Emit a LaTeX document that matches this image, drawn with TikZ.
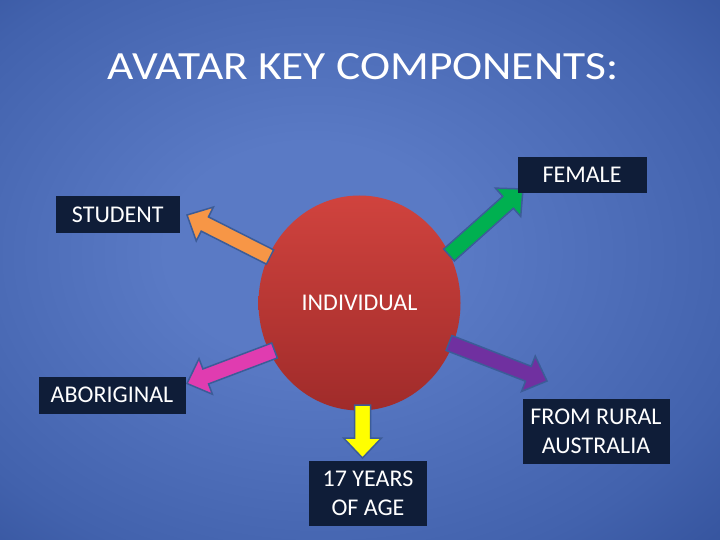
\documentclass[tikz,border=0pt]{standalone}
\usepackage{fontspec}
\setmainfont{Carlito}
\usetikzlibrary{calc,shapes.geometric}
\definecolor{boxnavy}{HTML}{0F1D38}
\definecolor{arroworange}{HTML}{F79646}
\definecolor{arrowgreen}{HTML}{00B050}
\definecolor{arrowpink}{HTML}{E03CB0}
\definecolor{arrowpurple}{HTML}{7030A0}
\definecolor{arrowyellow}{HTML}{FFFF00}
\definecolor{arrowedge}{HTML}{3C5C98}
\definecolor{bgc}{HTML}{5A7AC5}
\definecolor{bgm}{HTML}{4262AD}
\definecolor{bge}{HTML}{26438C}
\definecolor{bgk}{HTML}{0E2465}
\definecolor{redtop}{HTML}{D0433E}
\definecolor{redbot}{HTML}{A02B2A}
\pgfdeclareradialshading{slidebg}{\pgfpoint{-4bp}{2bp}}{color(0bp)=(bgc); color(10bp)=(bgc); color(30bp)=(bgm); color(48bp)=(bge); color(72bp)=(bgk)}
\newcommand{\blkarrow}[3]{%
  \filldraw[fill=#3, arrowline]
    ($(#1)!8pt!90:(#2)$) --
    ($($(#2)!20pt!(#1)$)!8pt!90:(#2)$) --
    ($($(#2)!20pt!(#1)$)!19pt!90:(#2)$) --
    (#2) --
    ($($(#2)!20pt!(#1)$)!19pt!-90:(#2)$) --
    ($($(#2)!20pt!(#1)$)!8pt!-90:(#2)$) --
    ($(#1)!8pt!-90:(#2)$) -- cycle;}
\tikzset{
  arrowline/.style={draw=arrowedge, line width=1.5pt, line join=miter},
  labelbox/.style={fill=boxnavy, text=white, align=center, inner sep=0pt,
    font=\fontsize{24}{29}\selectfont},
}
\begin{document}
\begin{tikzpicture}[x=1pt, y=-1pt]
\path[use as bounding box, shading=slidebg] (0,0) rectangle (720,540);
% title
\node[text=white, font=\fontsize{40}{48}\selectfont, inner sep=0pt] (title) at (363,66.5) {\scalebox{1.135}[1]{AVATAR KEY COMPONENTS:}};
% centre circle
\node[ellipse, minimum width=202pt, minimum height=215pt, inner sep=0pt,
  top color=redtop, bottom color=redbot, text=white,
  font=\fontsize{24}{29}\selectfont] (ind) at (359.5,303) {INDIVIDUAL};
% arrow end points
\coordinate (tStu) at (270,257);   \coordinate (hStu) at (187,215);
\coordinate (tFem) at (449,255);   \coordinate (hFem) at (523,189);
\coordinate (tAbo) at (274.5,350.5); \coordinate (hAbo) at (187,383.5);
\coordinate (tRur) at (449,343);   \coordinate (hRur) at (547,381);
\coordinate (tAge) at (362.5,405); \coordinate (hAge) at (362.5,458);
\blkarrow{tStu}{hStu}{arroworange}
\blkarrow{tFem}{hFem}{arrowgreen}
\blkarrow{tAbo}{hAbo}{arrowpink}
\blkarrow{tRur}{hRur}{arrowpurple}
\blkarrow{tAge}{hAge}{arrowyellow}
% boxes
\node[labelbox, minimum width=129pt, minimum height=36pt] (fem) at (582,175.3) {FEMALE};
\node[labelbox, minimum width=123.5pt, minimum height=37pt] (stu) at (117.8,214.8) {STUDENT};
\node[labelbox, minimum width=147pt, minimum height=37pt] (abo) at (112,395) {ABORIGINAL};
\node[labelbox, minimum width=147pt, minimum height=65.5pt] (rur) at (596,431.5) {FROM RURAL\\AUSTRALIA};
\node[labelbox, minimum width=118.5pt, minimum height=65.5pt] (age) at (368,493.5) {17 YEARS\\OF AGE};
\end{tikzpicture}
\end{document}
